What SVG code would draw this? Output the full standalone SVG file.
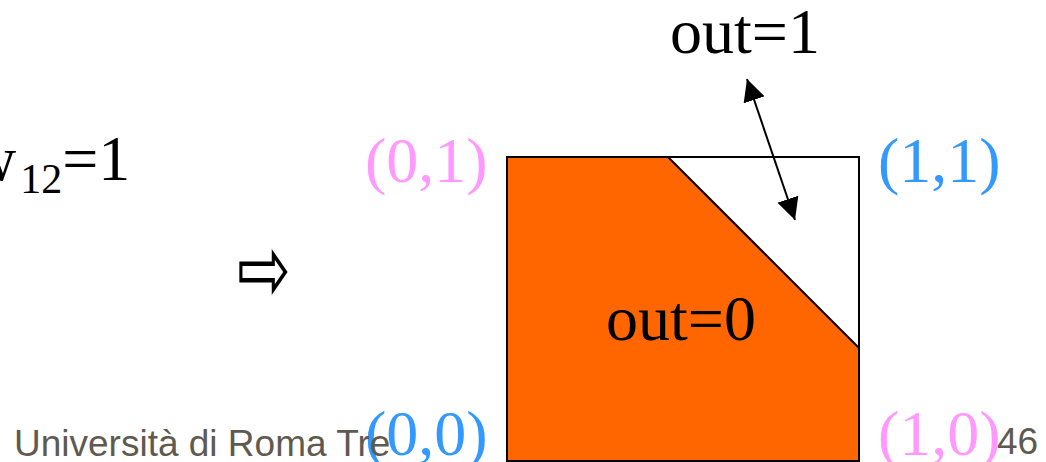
<svg xmlns="http://www.w3.org/2000/svg" width="1046" height="462" viewBox="0 0 1046 462">
<style>
.t{font-family:"Liberation Serif","Times New Roman",serif;font-size:64px;fill:#000}
.pk{fill:#FF99FF}
.bl{fill:#3399FF}
.ft{font-family:"Liberation Sans",Arial,sans-serif;font-size:37px;fill:#5F5A50}
</style>
<defs>
<marker id="ah2" viewBox="0 0 22 22" refX="22" refY="11" markerWidth="22" markerHeight="22" markerUnits="userSpaceOnUse" orient="auto-start-reverse">
<path d="M0,0 L22,11 L0,22 z" fill="#000"/>
</marker>
</defs>
<rect width="1046" height="462" fill="#fff"/>
<g id="square">
<polygon points="507,157 668,157 859,348 859,461 507,461" fill="#FF6600"/>
<line x1="668" y1="157" x2="859" y2="348" stroke="#000" stroke-width="2"/>
<rect x="507" y="157" width="352" height="304" fill="none" stroke="#000" stroke-width="2"/>
</g>
<g id="labels">
<text class="t" x="-30" y="180">w<tspan font-size="42" dx="4" dy="13">12</tspan><tspan dy="-13">=1</tspan></text>
<text transform="translate(0,272) scale(1,1.45)" x="237" y="20" font-family="DejaVu Sans,sans-serif" font-size="64" fill="#000">⇨</text>
<text class="t" x="670" y="53">out=1</text>
<text class="t" x="606" y="340">out=0</text>
<text class="t pk" x="365" y="182">(0,1)</text>
<text class="t bl" x="878" y="182">(1,1)</text>
<text class="t bl" x="365" y="455">(0,0)</text>
<text class="t pk" x="878" y="455">(1,0)</text>
</g>
<g id="footer">
<text class="ft" x="14" y="456">Università di Roma Tre</text>
<text class="ft" x="997" y="454" font-size="34">46</text>
</g>
<g id="connectors">
<line x1="747" y1="79" x2="795" y2="220" stroke="#000" stroke-width="2" marker-start="url(#ah2)" marker-end="url(#ah2)"/>
</g>
</svg>
